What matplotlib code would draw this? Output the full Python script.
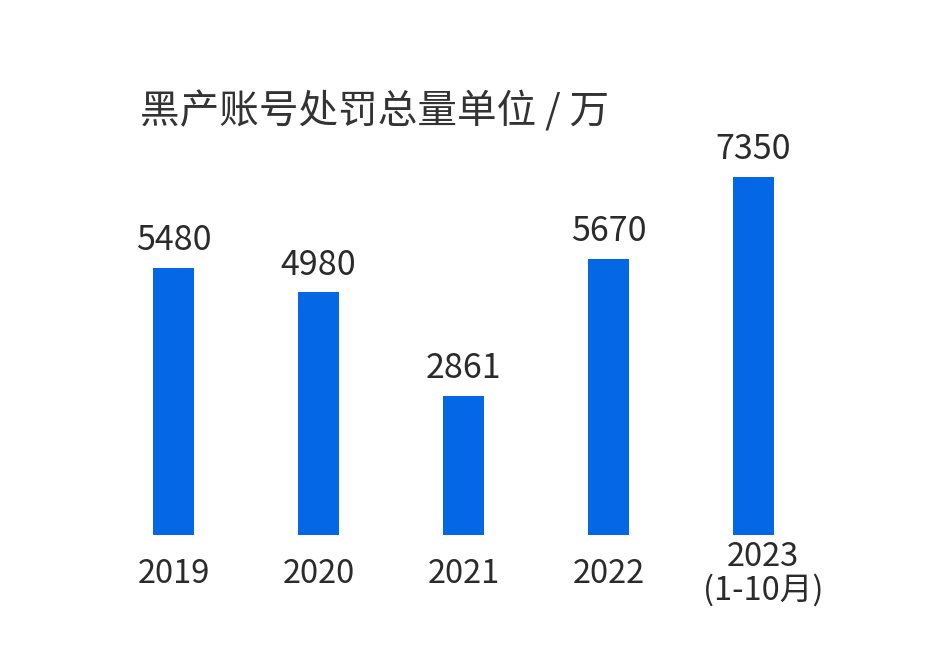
import numpy as np
import matplotlib
matplotlib.use("Agg")
import matplotlib.pyplot as plt

plt.rcParams['font.family'] = ['Noto Sans CJK SC', 'DejaVu Sans']

# data
years = ['2019', '2020', '2021', '2022', '2023\n(1-10月)']
values = [5480, 4980, 2861, 5670, 7350]
title = '黑产账号处罚总量单位 / 万'

bar_color = '#0367E6'
text_color = '#2b2b2b'

fig = plt.figure(figsize=(9.48, 6.54), dpi=100)
ax = fig.add_axes([0, 0, 1, 1])

x = np.arange(len(years))
# pixel layout: first bar center at 173.5px, 145px step; baseline at 535px
step = 145.0
x0 = 173.5
ax.set_xlim(-x0 / step, (948 - x0) / step)
px_per_unit = 358.0 / 7350
ax.set_ylim(-(654 - 535) / px_per_unit, 535 / px_per_unit)
ax.axis('off')

ax.bar(x, values, width=41 / step, color=bar_color)

for xi, v in zip(x, values):
    ax.annotate(str(v), (xi, v), xytext=(0, 7), textcoords='offset points',
                ha='center', va='bottom', fontsize=24.5, color=text_color)

for i, (xi, lab) in enumerate(zip(x, years)):
    dx = 7 if '\n' in lab else 0
    ax.annotate(lab, (xi, 0), xytext=(dx, -28), textcoords='offset points',
                ha='center', va='center', fontsize=23.5, color=text_color,
                linespacing=1.05)

fig.text(140 / 948, 1 - 112 / 654, title, fontsize=28.5, color='#333333',
         ha='left', va='center')

fig.savefig('out.png', dpi=100)
